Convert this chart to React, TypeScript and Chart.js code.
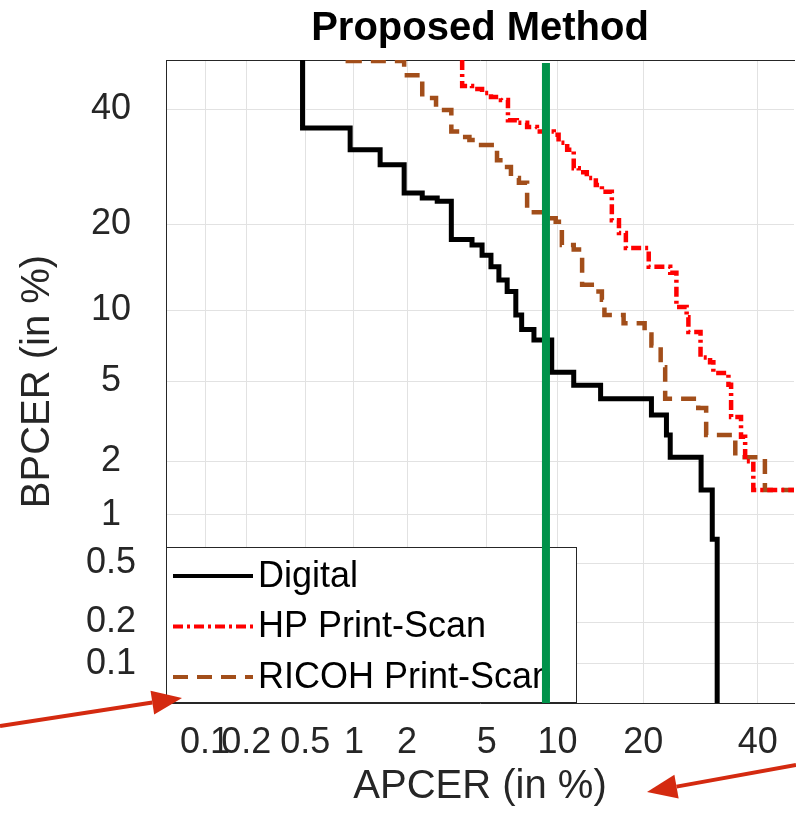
import React, { useEffect, useRef } from 'react';
import { Chart, registerables } from 'chart.js';

Chart.register(...registerables);

// ---------- data (percent) ----------
const tickPercents = [0.1, 0.2, 0.5, 1, 2, 5, 10, 20, 40];
const tickLabels = ['0.1', '0.2', '0.5', '1', '2', '5', '10', '20', '40'];
const xRange = [0.05, 47.3];
const yRange = [0.05, 50];

const seriesLabels = ['Digital', 'HP Print-Scan', 'RICOH Print-Scan'];

// step corners: at APCER[i] the curve drops to BPCER[i]
const digitalAPCER = [0.48, 0.95, 1.42, 1.93, 2.41, 2.88, 3.39, 4.27, 4.76, 5.23, 5.68, 6.18, 6.74, 7.14, 8.04, 9.49, 11.54, 14.45, 21.2, 23.5, 24.1, 29.3, 31.3, 32.2];
const digitalBPCER = [36.4, 32.3, 29.6, 24.8, 24.0, 23.5, 17.9, 17.2, 15.9, 14.5, 13.0, 11.8, 9.6, 8.4, 7.6, 5.5, 4.8, 4.15, 3.46, 2.75, 2.1, 1.39, 0.71, 0.05];

const hpAPCER = [3.83, 4.27, 4.76, 5.23, 5.8, 6.23, 6.81, 7.53, 8.27, 9.67, 10.1, 10.9, 11.54, 12.05, 12.9, 13.9, 14.6, 15.8, 16.7, 17.6, 20.8, 24.1, 25.1, 26.8, 27.1, 29.2, 30.9, 31.5, 34.3, 34.8, 36.7, 37.5, 39.1];
const hpBPCER = [44.7, 44.1, 43.3, 42.5, 41.9, 37.9, 37.4, 36.6, 35.7, 35.1, 33.6, 32.3, 29.0, 28.3, 27.3, 26.1, 25.0, 20.6, 18.8, 16.8, 14.5, 13.8, 10.3, 9.4, 8.2, 6.4, 6.1, 5.46, 4.83, 3.39, 2.69, 2.0, 1.39];

const ricohAPCER = [0.92, 1.93, 2.41, 2.84, 3.39, 3.78, 4.15, 4.71, 5.57, 5.98, 6.42, 6.95, 7.53, 9.08, 9.84, 10.4, 11.54, 12.4, 13.9, 14.6, 14.9, 17.3, 20.2, 21.2, 22.6, 23.3, 28.8, 30.2, 35.6, 41.4];
const ricohBPCER = [49.8, 46.9, 42.3, 39.9, 35.7, 34.7, 34.1, 33.2, 30.4, 29.2, 27.3, 26.5, 21.8, 20.9, 20.4, 17.2, 16.6, 12.5, 11.8, 11.0, 9.6, 8.9, 8.0, 7.2, 5.8, 4.15, 3.75, 2.75, 2.1, 1.39];

const curveStartBPCER = 50;
const curveEndAPCER = 50;

const thresholdAPCER = 9.0;
const thresholdBPCER = [49.4, 0.05];

// ---------- helpers ----------
function probit(p: number): number {
  const a = [-3.969683028665376e1, 2.209460984245205e2, -2.759285104469687e2, 1.38357751867269e2, -3.066479806614716e1, 2.506628277459239];
  const b = [-5.447609879822406e1, 1.615858368580409e2, -1.556989798598866e2, 6.680131188771972e1, -1.328068155288572e1];
  const c = [-7.784894002430293e-3, -3.223964580411365e-1, -2.400758277161838, -2.549732539343734, 4.374664141464968, 2.938163982698783];
  const d = [7.784695709041462e-3, 3.224671290700398e-1, 2.445134137142996, 3.754408661907416];
  const plow = 0.02425;
  const phigh = 1 - plow;
  if (p < plow) {
    const q = Math.sqrt(-2 * Math.log(p));
    return (((((c[0] * q + c[1]) * q + c[2]) * q + c[3]) * q + c[4]) * q + c[5]) / ((((d[0] * q + d[1]) * q + d[2]) * q + d[3]) * q + 1);
  }
  if (p <= phigh) {
    const q = p - 0.5;
    const r = q * q;
    return ((((((a[0] * r + a[1]) * r + a[2]) * r + a[3]) * r + a[4]) * r + a[5]) * q) / (((((b[0] * r + b[1]) * r + b[2]) * r + b[3]) * r + b[4]) * r + 1);
  }
  const q = Math.sqrt(-2 * Math.log(1 - p));
  return -(((((c[0] * q + c[1]) * q + c[2]) * q + c[3]) * q + c[4]) * q + c[5]) / ((((d[0] * q + d[1]) * q + d[2]) * q + d[3]) * q + 1);
}
const pr = (pct: number) => probit(pct / 100);

function stepCurve(xs: number[], ys: number[], startY: number, endX?: number) {
  const pts: { x: number; y: number }[] = [{ x: xs[0], y: startY }];
  for (let i = 0; i < xs.length; i++) {
    if (i > 0) pts.push({ x: xs[i], y: ys[i - 1] });
    pts.push({ x: xs[i], y: ys[i] });
  }
  if (endX !== undefined) pts.push({ x: endX, y: ys[ys.length - 1] });
  return pts.map((p) => ({ x: pr(p.x), y: pr(p.y) }));
}

const FONT = '"Liberation Sans", Arial, Helvetica, sans-serif';
const TEXT = '#262626';
const GRID = '#e2e2e2';

const legendPlugin = {
  id: 'insideLegend',
  beforeDatasetsDraw(chart: any) {
    const { ctx, chartArea } = chart;
    const w = 411;
    const h = 156;
    const x0 = chartArea.left;
    const y0 = chartArea.bottom - h;
    ctx.save();
    ctx.fillStyle = '#ffffff';
    ctx.fillRect(x0, y0, w, h);
    ctx.strokeStyle = TEXT;
    ctx.lineWidth = 1;
    ctx.strokeRect(x0 + 0.5, y0 + 0.5, w - 1, h - 1);
    [1, 2, 3].forEach((dsIndex, i) => {
      const ds = chart.data.datasets[dsIndex];
      const y = y0 + 29 + i * 50.5;
      ctx.beginPath();
      ctx.setLineDash(ds.borderDash || []);
      ctx.strokeStyle = ds.borderColor;
      ctx.lineWidth = 4;
      ctx.moveTo(x0 + 7, y);
      ctx.lineTo(x0 + 87, y);
      ctx.stroke();
      ctx.setLineDash([]);
      ctx.fillStyle = '#000000';
      ctx.font = `36px ${FONT}`;
      ctx.textBaseline = 'middle';
      ctx.textAlign = 'left';
      ctx.fillText(ds.label, x0 + 92, y + 1);
    });
    ctx.restore();
  },
};

function drawArrow(ctx: CanvasRenderingContext2D, x1: number, y1: number, x2: number, y2: number) {
  const ang = Math.atan2(y2 - y1, x2 - x1);
  const headLen = 30;
  const headW = 12;
  const bx = x2 - headLen * Math.cos(ang);
  const by = y2 - headLen * Math.sin(ang);
  ctx.beginPath();
  ctx.moveTo(x1, y1);
  ctx.lineTo(bx, by);
  ctx.stroke();
  ctx.beginPath();
  ctx.moveTo(x2, y2);
  ctx.lineTo(bx + headW * Math.sin(ang), by - headW * Math.cos(ang));
  ctx.lineTo(bx - headW * Math.sin(ang), by + headW * Math.cos(ang));
  ctx.closePath();
  ctx.fill();
}

const arrowPlugin = {
  id: 'arrows',
  afterDraw(chart: any) {
    const { ctx, chartArea, width, height } = chart;
    ctx.save();
    ctx.strokeStyle = '#d42a10';
    ctx.fillStyle = '#d42a10';
    ctx.lineWidth = 4;
    drawArrow(ctx, 0, chartArea.bottom + 23, chartArea.left + 16, chartArea.bottom - 5);
    drawArrow(ctx, width, height - 50, chartArea.left + 481, height - 23);
    ctx.restore();
  },
};

export default function App() {
  const canvasRef = useRef<HTMLCanvasElement | null>(null);

  useEffect(() => {
    document.body.style.margin = '0';
    const canvas = canvasRef.current;
    if (!canvas) return;

    const customTicks = (scale: any) => {
      scale.ticks = tickPercents.map((p) => ({ value: pr(p) }));
    };
    const tickCb = (_v: any, i: number) => tickLabels[i];

    const chart = new Chart(canvas, {
      type: 'scatter',
      data: {
        datasets: [
          {
            label: 'threshold',
            data: thresholdBPCER.map((b) => ({ x: pr(thresholdAPCER), y: pr(b) })),
            showLine: true,
            borderColor: '#00924a',
            borderWidth: 8,
            pointRadius: 0,
          },
          {
            label: seriesLabels[0],
            data: stepCurve(digitalAPCER, digitalBPCER, curveStartBPCER),
            showLine: true,
            borderColor: '#000000',
            borderWidth: 5,
            pointRadius: 0,
          },
          {
            label: seriesLabels[1],
            data: stepCurve(hpAPCER, hpBPCER, curveStartBPCER, curveEndAPCER),
            showLine: true,
            borderColor: '#ff0000',
            borderWidth: 4.5,
            borderDash: [10, 4, 3, 4],
            pointRadius: 0,
          },
          {
            label: seriesLabels[2],
            data: stepCurve(ricohAPCER, ricohBPCER, curveStartBPCER, curveEndAPCER),
            showLine: true,
            borderColor: '#a24e1a',
            borderWidth: 4.5,
            borderDash: [15, 9],
            pointRadius: 0,
          },
        ],
      },
      options: {
        animation: false,
        responsive: false,
        layout: { padding: 0 },
        plugins: {
          legend: { display: false },
          tooltip: { enabled: false },
          title: {
            display: true,
            text: 'Proposed Method',
            fullSize: false,
            color: '#000000',
            font: { family: FONT, size: 40, weight: 'bold' },
            padding: { top: 5, bottom: 7 },
          },
        },
        scales: {
          x: {
            type: 'linear',
            position: 'bottom',
            min: pr(xRange[0]),
            max: pr(xRange[1]),
            afterBuildTicks: customTicks,
            afterFit: (s: any) => {
              s.height = 112;
            },
            grid: { color: GRID, lineWidth: 1, drawTicks: false },
            border: { color: TEXT, width: 1 },
            ticks: {
              autoSkip: false,
              maxRotation: 0,
              minRotation: 0,
              padding: 18,
              color: TEXT,
              font: { family: FONT, size: 36 },
              callback: tickCb,
            },
            title: {
              display: true,
              text: 'APCER (in %)',
              color: TEXT,
              font: { family: FONT, size: 40 },
              padding: { top: 0, bottom: 4 },
            },
          },
          y: {
            type: 'linear',
            position: 'left',
            min: pr(yRange[0]),
            max: pr(yRange[1]),
            afterBuildTicks: customTicks,
            afterFit: (s: any) => {
              s.width = 166;
            },
            grid: { color: GRID, lineWidth: 1, drawTicks: false },
            border: { color: TEXT, width: 1 },
            ticks: {
              autoSkip: false,
              crossAlign: 'center',
              padding: 30,
              color: TEXT,
              font: { family: FONT, size: 36 },
              callback: tickCb,
            },
            title: {
              display: true,
              text: 'BPCER (in %)',
              color: TEXT,
              font: { family: FONT, size: 40 },
              padding: { top: 14, bottom: 0 },
            },
          },
          xTop: {
            type: 'linear',
            position: 'top',
            min: 0,
            max: 1,
            afterFit: (s: any) => {
              s.height = 0;
            },
            grid: { drawOnChartArea: false, drawTicks: false },
            border: { color: TEXT, width: 1 },
            ticks: { display: false },
          },
        },
      } as any,
      plugins: [legendPlugin, arrowPlugin],
    });

    return () => chart.destroy();
  }, []);

  return (
    <div style={{ width: 796, height: 815 }}>
      <canvas ref={canvasRef} width={796} height={815} style={{ display: 'block' }} />
    </div>
  );
}
